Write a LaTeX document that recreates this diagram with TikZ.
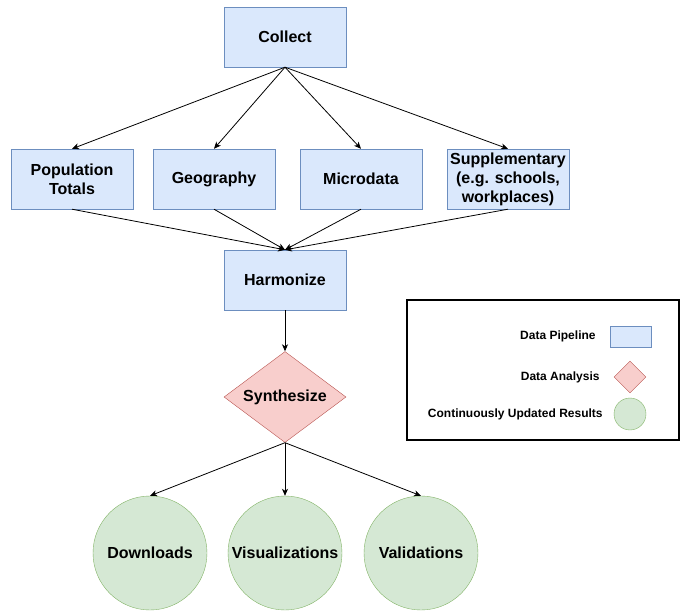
\documentclass[tikz,border=0pt]{standalone}
\usepackage{fontspec}
\setmainfont{Liberation Sans}
\usepackage{tikz}
\usetikzlibrary{shapes,shapes.geometric,arrows,arrows.meta,positioning}
\usepackage{xcolor}
\definecolor{pipefill}{HTML}{DAE8FC}
\definecolor{pipeline}{HTML}{6C8EBF}
\definecolor{analysisfill}{HTML}{F8CECC}
\definecolor{analysisline}{HTML}{B85450}
\definecolor{resultfill}{HTML}{D5E8D4}
\definecolor{resultline}{HTML}{82B366}

\begin{document}
\begin{tikzpicture}[x=1pt,y=-1pt,
	  every node/.style={align=center,inner sep=0pt,font=\bfseries\fontsize{16}{19}\selectfont},
	  pipebox/.style={draw=pipeline,fill=pipefill,minimum width=122pt,minimum height=60pt},
	  analysis/.style={diamond,aspect=1.34,draw=analysisline,fill=analysisfill,minimum width=122pt,minimum height=91pt},
	  result/.style={circle,draw=resultline,fill=resultfill,minimum size=114pt},
	  legendbox/.style={draw=black,line width=2.5pt,minimum width=272pt,minimum height=140pt},
	  keylabel/.style={font=\bfseries\fontsize{12}{14}\selectfont},
	  flow/.style={-{Stealth[length=7pt,width=6pt,inset=2pt]},draw=black,line width=0.8pt}]

	  \useasboundingbox (0,0) rectangle (681,613);

	  % Pipeline boxes
	  \node[pipebox] (collect) at (285,37) {Collect};
	  \node[pipebox] (totals) at (72,179) {Population\\Totals};
	  \node[pipebox] (geography) at (214,179) {Geography};
	  \node[pipebox] (microdata) at (361,179) {Microdata};
	  \node[pipebox] (supplementary) at (508,179) {Supplementary\\(e.g. schools,\\workplaces)};
	  \node[pipebox] (harmonize) at (285,280) {Harmonize};

	  % Analysis and results
	  \node[analysis] (synthesize) at (285,397) {Synthesize};
	  \node[result] (downloads) at (150,553) {Downloads};
	  \node[result] (visualizations) at (285,553) {Visualizations};
	  \node[result] (validations) at (421,553) {Validations};

	  % Connectors
	  \foreach \n in {totals,geography,microdata,supplementary}{
	    \draw[flow] (collect.south) -- (\n.north);
	    \draw[flow] (\n.south) -- (harmonize.north);
	  }
	  \draw[flow] (harmonize.south) -- (synthesize.north);
	  \foreach \n in {downloads,visualizations,validations}
	    \draw[flow] (synthesize.south) -- (\n.north);

	  % Legend
	  \node[legendbox] (legend) at (543,370) {};
	  \node[pipebox,minimum width=41pt,minimum height=21pt] (keypipe) at (630.5,336.5) {};
	  \node[analysis,aspect=1,minimum width=32pt,minimum height=32pt] (keyanalysis) at (630,377) {};
	  \node[result,minimum size=32pt] (keyresult) at (630,414) {};
	  \node[keylabel,left=14pt of keypipe] (keypipetext) {Data Pipeline};
	  \node[keylabel,left=14pt of keyanalysis] (keyanalysistext) {Data Analysis};
	  \node[keylabel,left=11pt of keyresult] (keyresulttext) {Continuously Updated Results};

\end{tikzpicture}
\end{document}
